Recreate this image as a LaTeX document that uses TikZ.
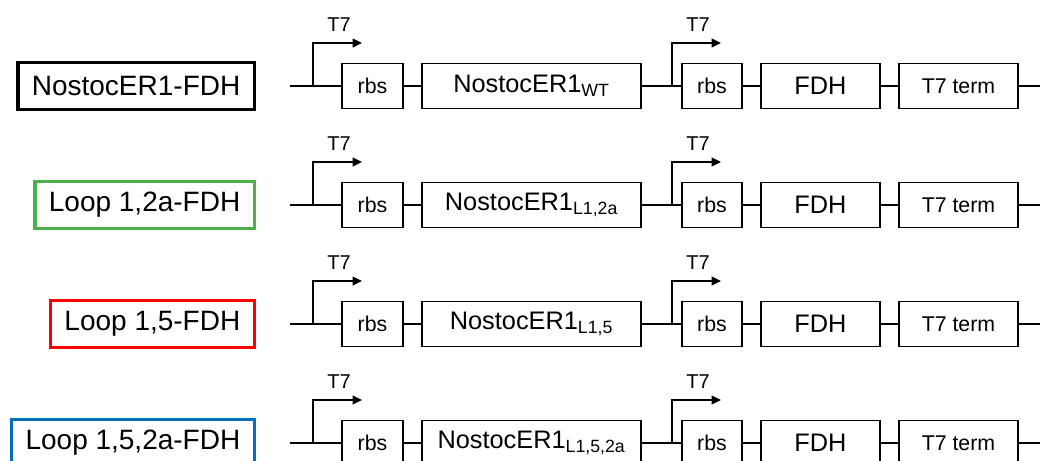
\documentclass[tikz,border=0pt]{standalone}
\usepackage{fontspec}
\setmainfont{Liberation Sans}
\usetikzlibrary{arrows.meta}
\definecolor{wtColor}{HTML}{000000}
\definecolor{loopAColor}{HTML}{4DB04A}
\definecolor{loopBColor}{HTML}{FF0000}
\definecolor{loopCColor}{HTML}{0070C0}

\begin{document}
\begin{tikzpicture}[x=0.75pt, y=-0.75pt,
		part/.style={draw, line width=0.9pt, fill=white, minimum height=33.75pt, inner sep=0pt, font=\fontsize{16}{19}\selectfont},
		gene/.style={part, font=\fontsize{19}{22}\selectfont},
		construct/.style={draw=#1, line width=2.5pt, minimum height=35pt, inner xsep=10.5pt, anchor=east, font=\fontsize{21}{25}\selectfont},
		backbone/.style={line width=1.4pt},
		promoter/.style={line width=1.1pt, -{Triangle[length=7pt,width=6.5pt]}},
		prlbl/.style={font=\fontsize{15}{18}\selectfont, anchor=base}
		]
		\useasboundingbox (0,0) rectangle (1040,461);
		\clip (0,0) rectangle (1040,461);

		% One row per construct
		\foreach \r/\name/\sub/\col in {1/{NostocER1-FDH}/{WT}/wtColor,
				2/{Loop 1,2a-FDH}/{L1,2a}/loopAColor,
				3/{Loop 1,5-FDH}/{L1,5}/loopBColor,
				4/{Loop 1,5,2a-FDH}/{L1,5,2a}/loopCColor}{
			\pgfmathsetmacro\yy{86+119*(\r-1)}
			\node[construct=\col] (lbl\r) at (256,\yy) {\name};

			% Parts
			\coordinate (start\r) at (290,\yy);
			\node[part, minimum width=45.75pt] (rbsA\r) at (372.5,\yy) {rbs};
			\node[gene, minimum width=164.25pt] (nos\r) at (531.5,\yy) {NostocER1\textsubscript{\sub}};
			\node[part, minimum width=45pt] (rbsB\r) at (712,\yy) {rbs};
			\node[gene, minimum width=89.25pt] (fdh\r) at (820.5,\yy) {FDH};
			\node[part, minimum width=89.25pt] (term\r) at (958.5,\yy) {T7 term};
			\coordinate (end\r) at (1046,\yy);

			\draw[backbone] (start\r) -- (rbsA\r) (rbsA\r) -- (nos\r) (nos\r) -- (rbsB\r)
				(rbsB\r) -- (fdh\r) (fdh\r) -- (term\r) (term\r) -- (end\r);

			% Promoters
			\coordinate (pA\r) at (313,\yy);
			\coordinate (tipA\r) at (362,\yy-43);
			\draw[promoter] (pA\r) |- (tipA\r);
			\node[prlbl] (tA\r) at (339,\yy-55) {T7};
			\coordinate (pB\r) at (672,\yy);
			\coordinate (tipB\r) at (721,\yy-43);
			\draw[promoter] (pB\r) |- (tipB\r);
			\node[prlbl] (tB\r) at (698,\yy-55) {T7};
		}
	\end{tikzpicture}
\end{document}
